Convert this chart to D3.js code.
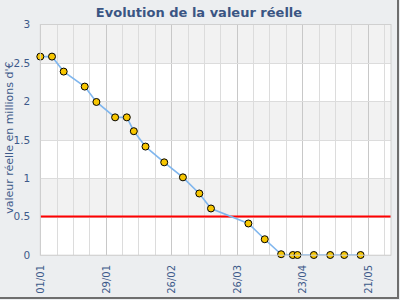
<!DOCTYPE html>
<html><head><meta charset="utf-8">
<script src="https://cdn.jsdelivr.net/npm/d3@7"></script>
<style>body{margin:0;background:#fff}svg{display:block;font-family:"DejaVu Sans",Verdana,sans-serif}</style>
</head><body><svg id="c" width="400" height="300"></svg>
<script>
const dates = ["2015-01-01","2015-01-06","2015-01-11","2015-01-20","2015-01-25","2015-02-02","2015-02-07","2015-02-10","2015-02-15","2015-02-23","2015-03-03","2015-03-10","2015-03-15","2015-03-31","2015-04-07","2015-04-14","2015-04-19","2015-04-21","2015-04-28","2015-05-05","2015-05-11","2015-05-18"];
const values = [2.58,2.58,2.385,2.19,1.99,1.79,1.79,1.61,1.41,1.205,1.01,0.80,0.605,0.41,0.205,0.01,0,0,0,0,0,0];
const tickLabels = ["01/01","29/01","26/02","26/03","23/04","21/05"];
const yTicks = [0,0.5,1,1.5,2,2.5,3];
const threshold = 0.5;
const title = "Evolution de la valeur réelle";
const yTitle = "valeur réelle en millions d'€";

const svg = d3.select("#c");
const W=400,H=300, L=40.3, R=391, T=24.3, B=255;
const parse = d3.utcParse("%Y-%m-%d");
const fmt = d3.utcFormat("%d/%m");
const start = parse("2015-01-01"), end = parse("2015-05-31");
const x = d3.scaleUtc().domain([start,end]).range([L,R]);
const y = d3.scaleLinear().domain([0,3]).range([B,T]);
const txt = "#3d5a8a";

svg.append("rect").attr("width",W).attr("height",H).attr("fill","#eceef0");
svg.append("line").attr("x1",398).attr("x2",398).attr("y1",0).attr("y2",299).attr("stroke","#6e6e6e").attr("stroke-width",2);
svg.append("line").attr("x1",0).attr("x2",399).attr("y1",298).attr("y2",298).attr("stroke","#6e6e6e").attr("stroke-width",2);

// bands
const bands = yTicks.slice(0,-1);
svg.append("g").selectAll("rect").data(bands).join("rect")
  .attr("x",L).attr("width",R-L)
  .attr("y",d=>y(d+0.5)).attr("height",d=>y(d)-y(d+0.5))
  .attr("fill",(d,i)=> i%2===0 ? "#ffffff" : "#f2f2f2");

// vertical grid
const weeks = d3.utcDay.range(start, d3.utcDay.offset(end,1), 7);
const labeled = new Set(tickLabels);
svg.append("g").selectAll("line").data(weeks).join("line")
  .attr("x1",d=>Math.round(x(d))+0.5).attr("x2",d=>Math.round(x(d))+0.5)
  .attr("y1",T).attr("y2",B)
  .attr("stroke",d=>labeled.has(fmt(d))?"#c8c8c8":"#dcdcdc").attr("stroke-width",1);
// horizontal grid
svg.append("g").selectAll("line").data(yTicks).join("line")
  .attr("x1",L).attr("x2",R)
  .attr("y1",d=>Math.round(y(d))+0.5).attr("y2",d=>Math.round(y(d))+0.5)
  .attr("stroke","#dcdcdc");

// threshold
svg.append("line").attr("x1",L).attr("x2",R).attr("y1",y(threshold)).attr("y2",y(threshold))
  .attr("stroke","#ff0000").attr("stroke-width",2);

// y axis
const yAxis = d3.axisLeft(y).tickValues(yTicks).tickSize(0).tickPadding(10).tickFormat(d=>String(d));
const ga = svg.append("g").attr("transform",`translate(${L},0)`).call(yAxis);
ga.select(".domain").remove();
ga.selectAll("text").attr("fill",txt).attr("font-size",10.5).attr("font-family","DejaVu Sans");

// x axis
const xAxis = d3.axisBottom(x).tickValues(tickLabels.map(s=>d3.utcParse("%d/%m/%Y")(s+"/2015"))).tickSize(0).tickFormat(fmt);
const gx = svg.append("g").attr("transform",`translate(0,${B})`).call(xAxis);
gx.select(".domain").remove();
gx.selectAll("text").attr("fill",txt).attr("font-size",10).attr("font-family","DejaVu Sans")
  .attr("text-anchor","end").attr("dy","0.35em").attr("transform","translate(0,10) rotate(-90)").attr("x",0).attr("y",0);

// line + points
const pts = dates.map((d,i)=>({d:parse(d),v:values[i]}));
svg.append("path").datum(pts).attr("fill","none").attr("stroke","#7fb6ee").attr("stroke-width",1.6)
  .attr("d",d3.line().x(p=>x(p.d)).y(p=>y(p.v)));
svg.append("g").selectAll("circle").data(pts).join("circle")
  .attr("cx",p=>x(p.d)).attr("cy",p=>y(p.v)).attr("r",3.5)
  .attr("fill","#f7c600").attr("stroke","#000").attr("stroke-width",1);

// frame
svg.append("rect").attr("x",L).attr("y",Math.round(T)+0.5).attr("width",R-L).attr("height",B-T)
  .attr("fill","none").attr("stroke","#d0d0d0");

svg.append("text").attr("x",199).attr("y",17).attr("text-anchor","middle")
  .attr("font-size",13).attr("font-weight","bold").attr("fill","#3a5583").text(title);
svg.append("text").attr("transform",`translate(13,${(T+B)/2-2}) rotate(-90)`).attr("text-anchor","middle")
  .attr("font-size",11).attr("fill",txt).text(yTitle);
</script></body></html>
